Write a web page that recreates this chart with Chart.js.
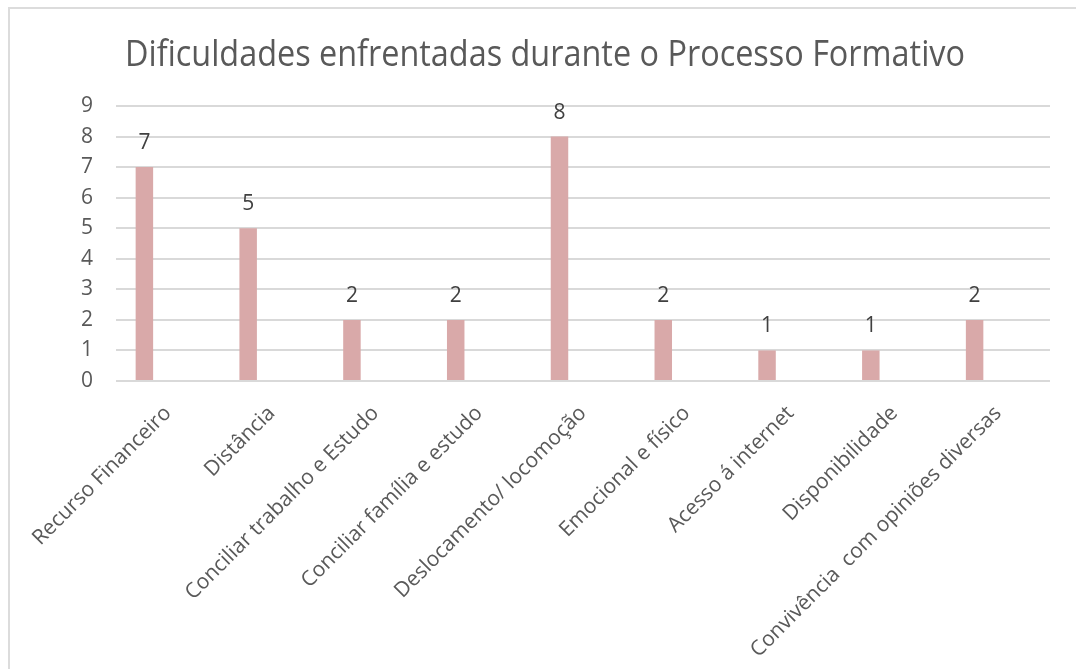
<!DOCTYPE html>
<html>
<head>
<meta charset="utf-8">
<script src="https://cdn.jsdelivr.net/npm/chart.js@4"></script>
<style>
  html, body { margin: 0; padding: 0; background: #fff; overflow: hidden; }
  #wrap { position: relative; width: 1076px; height: 669px; }
  #frame {
    position: absolute; left: 8px; top: 7px; width: 1100px; height: 700px;
    border: 2px solid #dcdcdc; box-sizing: border-box;
  }
  canvas { position: absolute; left: 0; top: 0; }
</style>
</head>
<body>
<div id="wrap">
  <div id="frame"></div>
  <canvas id="chart" width="1076" height="669"></canvas>
</div>
<script>
// Data
const categories = [
  "Recurso Financeiro",
  "Distância",
  "Conciliar trabalho e Estudo",
  "Conciliar família e estudo",
  "Deslocamento/ locomoção",
  "Emocional e físico",
  "Acesso á internet",
  "Disponibilidade",
  "Convivência  com opiniões diversas"
];
const counts = [7, 5, 2, 2, 8, 2, 1, 1, 2];
// empty second series (keeps bars left of the category centre, as in the original)
const emptySeries = [null, null, null, null, null, null, null, null, null];
const yTicks = [0, 1, 2, 3, 4, 5, 6, 7, 8, 9];
const chartTitle = "Dificuldades enfrentadas durante o Processo Formativo";

const textColor = "#595959";
const gridColor = "#d9d9d9";
const fontFamily = "'Open Sans', 'Liberation Sans', sans-serif";

// Title, drawn by hand so it can sit where the original one is
const titlePlugin = {
  id: "titlePlugin",
  afterDraw(chart) {
    const ctx = chart.ctx;
    ctx.save();
    ctx.font = "36px " + fontFamily;
    ctx.fillStyle = textColor;
    ctx.textAlign = "center";
    ctx.textBaseline = "alphabetic";
    const w = ctx.measureText(chartTitle).width;
    ctx.translate(545, 66);
    ctx.scale(840 / w, 1);
    ctx.fillText(chartTitle, 0, 0);
    ctx.restore();
  }
};

// Value labels above bars
const valueLabels = {
  id: "valueLabels",
  afterDatasetsDraw(chart) {
    const ctx = chart.ctx;
    const meta = chart.getDatasetMeta(0);
    ctx.save();
    ctx.font = "21px " + fontFamily;
    ctx.fillStyle = "#404040";
    ctx.textAlign = "center";
    ctx.textBaseline = "alphabetic";
    meta.data.forEach((bar, i) => {
      ctx.fillText(String(counts[i]), bar.x, bar.y - 18);
    });
    ctx.restore();
  }
};

const ctx = document.getElementById("chart").getContext("2d");

new Chart(ctx, {
  type: "bar",
  data: {
    labels: categories,
    datasets: [
      {
        data: counts,
        backgroundColor: "#d9a9a9",
        categoryPercentage: 0.906,
        barPercentage: 0.372
      },
      {
        data: emptySeries,
        backgroundColor: "#d9a9a9",
        categoryPercentage: 0.906,
        barPercentage: 0.372
      }
    ]
  },
  options: {
    responsive: false,
    animation: false,
    layout: { padding: { left: 0, right: 26, top: 106, bottom: 0 } },
    plugins: {
      legend: { display: false },
      tooltip: { enabled: false },
      title: { display: false }
    },
    scales: {
      x: {
        grid: { display: false, drawTicks: false },
        border: { display: false },
        ticks: {
          color: textColor,
          font: { family: fontFamily, size: 21 },
          minRotation: 45,
          maxRotation: 45,
          autoSkip: false,
          padding: 20
        },
        afterFit(scale) { scale.height = 288; }
      },
      y: {
        min: 0,
        max: 9,
        grid: { color: gridColor, lineWidth: 2, drawTicks: false },
        border: { display: false },
        afterBuildTicks(scale) {
          scale.ticks = yTicks.map((v) => ({ value: v }));
        },
        ticks: {
          color: textColor,
          font: { family: fontFamily, size: 21 },
          padding: 23
        },
        afterFit(scale) { scale.width = 116; }
      }
    }
  },
  plugins: [valueLabels, titlePlugin]
});
</script>
</body>
</html>
